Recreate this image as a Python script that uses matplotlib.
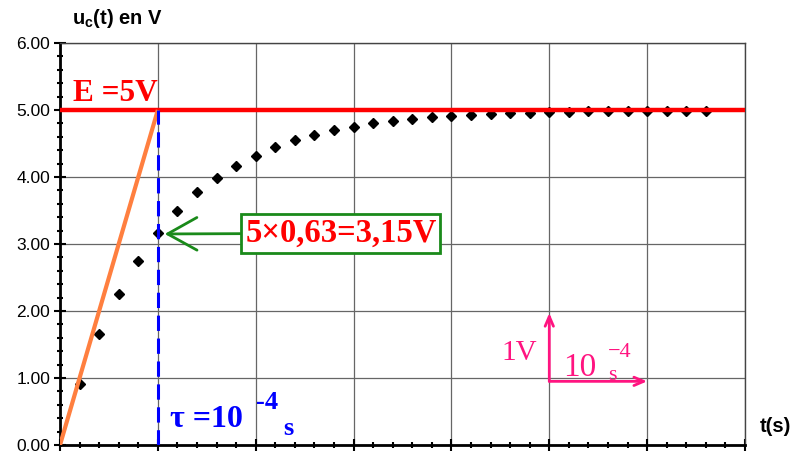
import matplotlib
matplotlib.use("Agg")
import matplotlib.pyplot as plt
from matplotlib.ticker import MultipleLocator, FormatStrFormatter, NullFormatter

# time in units of 1e-4 s, voltage in V
t_data = [0.2, 0.4, 0.6, 0.8, 1.0, 1.2, 1.4, 1.6, 1.8, 2.0, 2.2, 2.4, 2.6, 2.8, 3.0,
          3.2, 3.4, 3.6, 3.8, 4.0, 4.2, 4.4, 4.6, 4.8, 5.0, 5.2, 5.4, 5.6, 5.8, 6.0,
          6.2, 6.4, 6.6]
u_data = [0.91, 1.65, 2.26, 2.75, 3.16, 3.49, 3.77, 3.99, 4.17, 4.32, 4.45, 4.55, 4.63,
          4.70, 4.75, 4.80, 4.83, 4.86, 4.89, 4.91, 4.93, 4.94, 4.95, 4.96, 4.97, 4.97,
          4.98, 4.98, 4.99, 4.99, 4.99, 4.99, 4.99]
E = 5.0
tau = 1.0
tangent_t = [0.0, 1.0]
tangent_u = [0.0, 5.0]
y_ticks = [0, 1, 2, 3, 4, 5, 6]

fig = plt.figure(figsize=(8.07, 4.55), dpi=100)
ax = fig.add_axes([60/807, 10/455, (745-60)/807, (445-43)/455])
ax.set_xlim(0, 7)
ax.set_ylim(0, 6)

# grid
ax.set_xticks(range(0, 8))
ax.set_yticks(y_ticks)
ax.xaxis.set_minor_locator(MultipleLocator(0.2))
ax.yaxis.set_minor_locator(MultipleLocator(0.2))
ax.grid(True, which='major', color='#666666', linewidth=0.9, zorder=0)
ax.yaxis.set_major_formatter(FormatStrFormatter('%.2f'))
ax.xaxis.set_major_formatter(NullFormatter())
for s in ['top', 'right']:
    ax.spines[s].set_color('#444444')
    ax.spines[s].set_linewidth(1.0)
for s in ['left', 'bottom']:
    ax.spines[s].set_color('black')
    ax.spines[s].set_linewidth(2.0)
ax.tick_params(axis='both', which='major', direction='inout', length=8, width=1.5,
               labelsize=12.5, colors='black')
ax.tick_params(axis='both', which='minor', direction='inout', length=5, width=1.5)
ax.tick_params(axis='y', pad=3)
for lab in ax.get_yticklabels():
    lab.set_family('Liberation Sans')

# data
ax.plot(t_data, u_data, linestyle='none', marker='D', markersize=5.5,
        color='black', zorder=4)

# E line
ax.axhline(E, color='#ff0000', linewidth=3.2, zorder=5)
# tangent
ax.plot(tangent_t, tangent_u, color='#ff7f3f', linewidth=3, zorder=5,
        solid_capstyle='butt')
# tau dashed
ax.plot([tau, tau], [0, E], color='#0000ff', linewidth=2.2,
        linestyle=(0, (5, 2.5)), zorder=5)

serif = ['Liberation Serif', 'DejaVu Serif']
ax.text(0.13, 5.24, 'E =5V', color='#ff0000', fontsize=22.5, fontweight='bold',
        family=serif, ha='left', va='center', zorder=6)

ax.text(1.12, 0.38, '\u03c4 =10', color='#0000ff', fontsize=23, fontweight='bold',
        family=serif, ha='left', va='center', zorder=6)
ax.text(2.0, 0.64, '-4', color='#0000ff', fontsize=19, fontweight='bold',
        family=serif, ha='left', va='center', zorder=6)
ax.text(2.28, 0.24, 's', color='#0000ff', fontsize=19, fontweight='bold',
        family=serif, ha='left', va='center', zorder=6)

ax.annotate('5\u00d70,63=3,15V', xy=(1.07, 3.15), xytext=(2.87, 3.16),
            color='#ff0000', fontsize=23.5, fontweight='bold', family=serif,
            ha='center', va='center', zorder=7,
            bbox=dict(boxstyle='square,pad=0.12', facecolor='white',
                      edgecolor='#1a8a1a', linewidth=2),
            arrowprops=dict(arrowstyle='->,head_length=0.9,head_width=0.5',
                            color='#1a8a1a', lw=2, shrinkA=0, shrinkB=0))

pink = '#ff1480'
ax.annotate('', xy=(5.0, 1.97), xytext=(5.0, 0.95),
            arrowprops=dict(arrowstyle='->,head_length=0.7,head_width=0.3',
                            color=pink, lw=2, shrinkA=0, shrinkB=0), zorder=6)
ax.annotate('', xy=(6.0, 0.95), xytext=(5.0, 0.95),
            arrowprops=dict(arrowstyle='->,head_length=0.7,head_width=0.3',
                            color=pink, lw=2, shrinkA=0, shrinkB=0), zorder=6)
ax.text(4.87, 1.38, '1V', color=pink, fontsize=21, family=serif,
        ha='right', va='center', zorder=6)
ax.text(5.14, 1.15, '10', color=pink, fontsize=24, family=serif,
        ha='left', va='center', zorder=6)
ax.text(5.6, 1.38, '\u22124', color=pink, fontsize=16, family=serif,
        ha='left', va='center', zorder=6)
ax.text(5.6, 1.03, 's', color=pink, fontsize=16, family=serif,
        ha='left', va='center', zorder=6)

fig.text(72/807, 1 - 19/455, r'u$_\mathregular{c}$(t) en V', fontsize=14.5, fontweight='bold',
         family='Liberation Sans', ha='left', va='center')
fig.text(760/807, 1 - 427/455, 't(s)', fontsize=14.5, fontweight='bold',
         family='Liberation Sans', ha='left', va='center')

fig.savefig('out.png', dpi=100, facecolor='white')
